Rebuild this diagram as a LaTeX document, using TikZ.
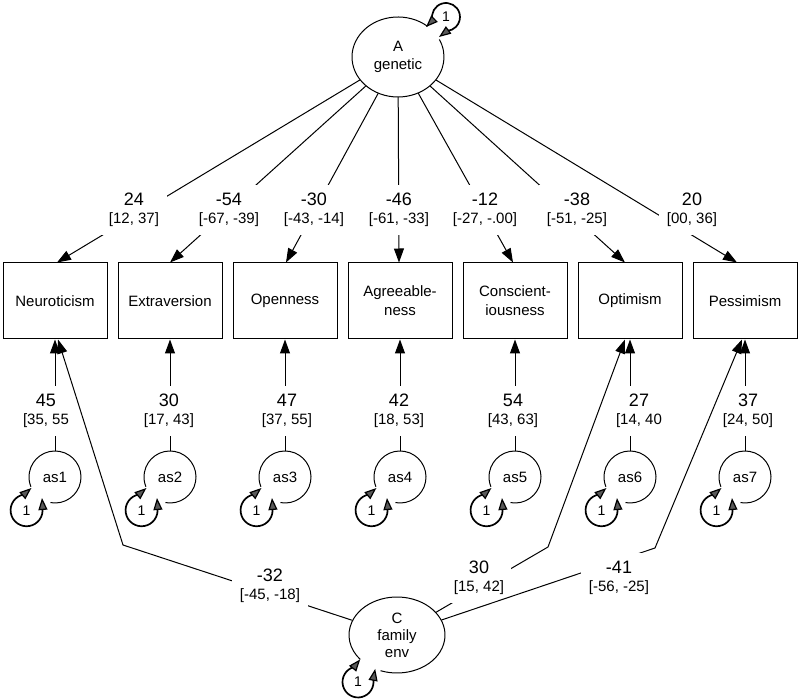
\documentclass[tikz,border=0pt]{standalone}
\usepackage{fontspec}
\setmainfont{Liberation Sans}
\usetikzlibrary{arrows.meta,shapes.geometric,calc}
\newcommand{\edgelab}[2]{{\fontsize{18}{18}\selectfont #1}\\{#2}}
\begin{document}
\begin{tikzpicture}[x=1pt,y=1pt,
  obs/.style={rectangle,draw,line width=1pt,minimum width=104pt,minimum height=76pt,inner sep=0pt,align=center,font=\fontsize{15}{19}\selectfont},
  res/.style={circle,minimum size=52pt,inner sep=0pt,font=\fontsize{15}{18}\selectfont},
  lat/.style={ellipse,inner sep=0pt,align=center},
  edg/.style={line width=1pt,-{Triangle[length=14pt,width=10pt]}},
  seg/.style={line width=1pt},
  lab/.style={fill=white,inner xsep=8pt,inner ysep=0pt,minimum height=50pt,align=center,font=\fontsize{15}{18}\selectfont},
  lpl/.style={line width=1.7pt},
  lpa/.style={draw=black,line width=1.2pt,-{Triangle[length=12pt,width=9pt,fill=black!65]}},
  one/.style={inner sep=0pt,font=\fontsize{14}{14}\selectfont}
]
\useasboundingbox (0,0) rectangle (800,699);

% latent variables
\node[lat,minimum width=92pt,minimum height=80pt,font=\fontsize{15}{17.5}\selectfont] (A) at (398,642) {A\\genetic};
\node[lat,minimum width=96pt,minimum height=76pt,font=\fontsize{15}{17}\selectfont] (C) at (397,64) {C\\family\\env};
\draw[seg] ($(A.center)+({46*cos(50)},{40*sin(50)})$) arc[start angle=50,end angle=386,x radius=46,y radius=40];
\draw[seg] ($(C.center)+({48*cos(250)},{38*sin(250)})$) arc[start angle=250,end angle=580,x radius=48,y radius=38];

% observed variables
\node[obs] (n1) at (55,398) {Neuroticism};
\node[obs] (n2) at (170,398) {Extraversion};
\node[obs] (n3) at (285,398) {Openness};
\node[obs] (n4) at (400,398) {Agreeable-\\ness};
\node[obs] (n5) at (515,398) {Conscient-\\iousness};
\node[obs] (n6) at (630,398) {Optimism};
\node[obs] (n7) at (745,398) {Pessimism};

% residuals
\foreach \i/\x in {1/55,2/170,3/285,4/400,5/515,6/630,7/745}{
  \node[res] (s\i) at (\x,222) {as\i};
}
\foreach \i in {1,...,7}{
  \draw[seg] ($(s\i.center)+(260:26)$) arc[start angle=260,end angle=562,radius=26];
  \draw[lpl] ($(s\i.center)+(-31.2,-17.5)$) arc[start angle=100,end angle=368,radius=16];
  \draw[lpa] ($(s\i.center)+(-31.2,-17.5)$) -- ($(s\i.center)+(205:26)$);
  \draw[lpa] ($(s\i.center)+(-12.2,-31.1)$) -- ($(s\i.center)+(-13,-21)$);
  \node[one] (o\i) at ($(s\i.center)+(-28.4,-33.3)$) {1};
}

% self loops of latents
\draw[lpl] ($(A.center)+(34.48,36.38)$) arc[start angle=195,end angle=-85,radius=14];
\draw[lpa] ($(A.center)+(34.48,36.38)$) -- ($(A.center)+(28,30)$);
\draw[lpa] ($(A.center)+(49.2,26.05)$) -- ($(A.center)+(41,20)$);
\node[one] (oA) at ($(A.center)+(48,40)$) {1};
\draw[lpl] ($(C.center)+(-43,-32)$) arc[start angle=105,end angle=370,radius=15.5];
\draw[lpa] ($(C.center)+(-43,-32)$) -- ($(C.center)+(-36.8,-24.4)$);
\draw[lpa] ($(C.center)+(-23.7,-44.3)$) -- ($(C.center)+(-21.8,-33.9)$);
\node[one] (oC) at ($(C.center)+(-39,-47)$) {1};

% A loadings
\draw[edg] (A) -- ($(n1.north)+(2,0)$);
\node[lab] (t1) at (134,489) {\edgelab{24}{[12, 37]}};
\draw[edg] (A) -- ($(n2.north)+(0,0)$);
\node[lab] (t2) at (229,489) {\edgelab{-54}{[-67, -39]}};
\draw[edg] (A) -- ($(n3.north)+(1,0)$);
\node[lab] (t3) at (314,489) {\edgelab{-30}{[-43, -14]}};
\draw[edg] (A) -- ($(n4.north)+(-1,0)$);
\node[lab] (t4) at (399,489) {\edgelab{-46}{[-61, -33]}};
\draw[edg] (A) -- ($(n5.north)+(-2,0)$);
\node[lab] (t5) at (485,489) {\edgelab{-12}{[-27, -.00]}};
\draw[edg] (A) -- ($(n6.north)+(-5,0)$);
\node[lab] (t6) at (577,489) {\edgelab{-38}{[-51, -25]}};
\draw[edg] (A) -- ($(n7.north)+(-8,0)$);
\node[lab] (t7) at (692,489) {\edgelab{20}{[00, 36]}};

% residual paths
\draw[edg] (s1) -- (n1);
\node[lab] (v1) at (46,288) {\edgelab{45}{[35, 55}};
\draw[edg] (s2) -- (n2);
\node[lab] (v2) at (169,288) {\edgelab{30}{[17, 43]}};
\draw[edg] (s3) -- (n3);
\node[lab] (v3) at (287,288) {\edgelab{47}{[37, 55]}};
\draw[edg] (s4) -- (n4);
\node[lab] (v4) at (399,288) {\edgelab{42}{[18, 53]}};
\draw[edg] (s5) -- (n5);
\node[lab] (v5) at (513,288) {\edgelab{54}{[43, 63]}};
\draw[edg] (s6) -- (n6);
\node[lab] (v6) at (639,288) {\edgelab{27}{[14, 40}};
\draw[edg] (s7) -- (n7);
\node[lab] (v7) at (748,288) {\edgelab{37}{[24, 50]}};

% C loadings
\coordinate (b1) at (123,154);
\coordinate (b2) at (548,152);
\coordinate (b3) at (655,151);
\draw[edg] (C) -- (b1) -- ($(n1.south)+(3,0)$);
\node[lab] (c1) at (270,113) {\edgelab{-32}{[-45, -18]}};
\draw[edg] (C) -- (b2) -- ($(n6.south)+(-5,0)$);
\node[lab,inner xsep=7pt] (c2) at (479,121) {\edgelab{30}{[15, 42]}};
\draw[edg] (C) -- (b3) -- ($(n7.south)+(-3,0)$);
\node[lab] (c3) at (619,121) {\edgelab{-41}{[-56, -25]}};
\end{tikzpicture}
\end{document}
